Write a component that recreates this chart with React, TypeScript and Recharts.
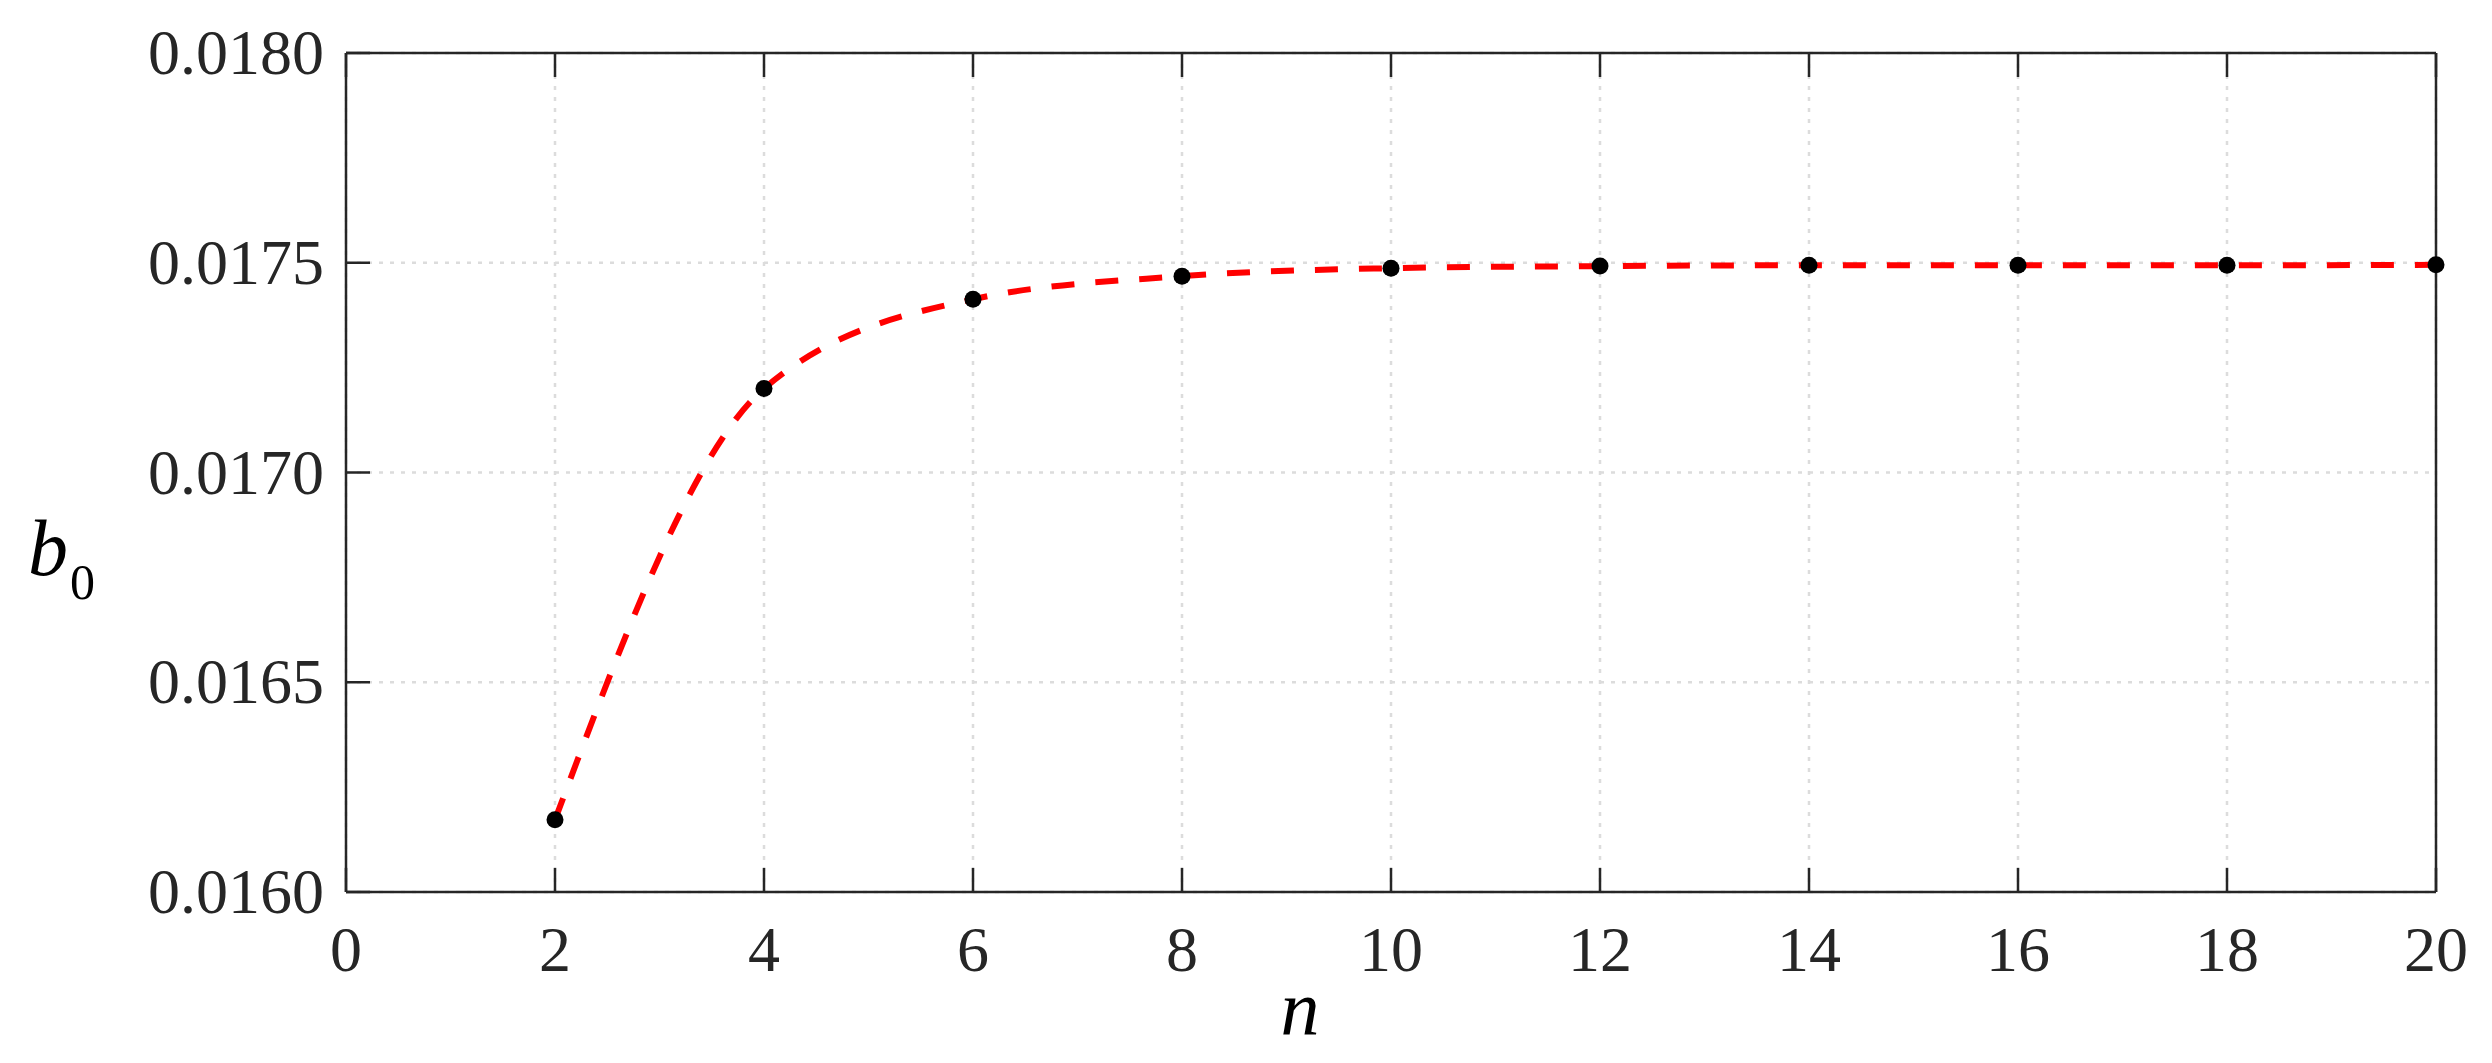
import React from 'react';
import {
  ComposedChart,
  Line,
  Scatter,
  XAxis,
  YAxis,
  CartesianGrid,
} from 'recharts';

const nValues = [2, 4, 6, 8, 10, 12, 14, 16, 18, 20];
const b0Values = [
  0.016172, 0.0172, 0.017413, 0.017468, 0.017487, 0.017492, 0.017494, 0.017494, 0.017494, 0.017495,
];
const xTicks = [0, 2, 4, 6, 8, 10, 12, 14, 16, 18, 20];
const yTicks = [0.016, 0.0165, 0.017, 0.0175, 0.018];

const data = nValues.map((n, i) => ({ n, b0: b0Values[i] }));

const INK = '#262626';
const FONT = '"Liberation Serif", "Times New Roman", serif';
const TICK_LEN = 24;

// ticks point inward (MATLAB style), so each tick draws its own mark
function BottomTick(props: any) {
  const { x, y, payload } = props;
  return (
    <g>
      <line x1={x} x2={x} y1={y} y2={y - TICK_LEN} stroke={INK} strokeWidth={2.5} />
      <text x={x} y={y + 79} textAnchor="middle" fill={INK} fontSize={64} fontFamily={FONT}>
        {payload.value}
      </text>
    </g>
  );
}

function LeftTick(props: any) {
  const { x, y, payload } = props;
  return (
    <g>
      <line x1={x} x2={x + TICK_LEN} y1={y} y2={y} stroke={INK} strokeWidth={2.5} />
      <text x={x - 22} y={y + 21} textAnchor="end" fill={INK} fontSize={64} fontFamily={FONT}>
        {Number(payload.value).toFixed(4)}
      </text>
    </g>
  );
}

function TopTick(props: any) {
  const { x, y } = props;
  return <line x1={x} x2={x} y1={y} y2={y + TICK_LEN} stroke={INK} strokeWidth={2.5} />;
}

function RightTick(props: any) {
  const { x, y } = props;
  return <line x1={x} x2={x - TICK_LEN} y1={y} y2={y} stroke={INK} strokeWidth={2.5} />;
}

function Dot(props: any) {
  const { cx, cy } = props;
  if (cx == null || cy == null) return null;
  return <circle cx={cx} cy={cy} r={8.5} fill="#000" />;
}

function B0Label(props: any) {
  const vb = props.viewBox || { x: 0, y: 0, width: 0, height: 0 };
  const x = vb.x + 28;
  const y = vb.y + vb.height / 2 + 102;
  return (
    <text x={x} y={y} fill="#000" fontFamily={FONT}>
      <tspan fontStyle="italic" fontSize={80}>b</tspan>
      <tspan fontSize={50} dx={2} dy={24}>0</tspan>
    </text>
  );
}

const axisLine = { stroke: INK, strokeWidth: 2.5 };

export default function App() {
  return (
    <div style={{ position: 'absolute', left: 0, top: 0, background: '#fff' }}>
      <ComposedChart
        width={2492}
        height={1063}
        data={data}
        margin={{ top: 52, right: 55, bottom: 0, left: 0 }}
      >
        <CartesianGrid stroke="#dcdcdc" strokeWidth={2.5} strokeDasharray="4 7" />
        <XAxis
          dataKey="n"
          type="number"
          domain={[0, 20]}
          ticks={xTicks}
          interval={0}
          height={171}
          tick={BottomTick}
          tickSize={0}
          tickMargin={0}
          tickLine={false}
          axisLine={axisLine}
          label={{
            value: 'n',
            position: 'insideBottom',
            offset: 28,
            dx: -91,
            fill: '#000',
            fontSize: 78,
            fontStyle: 'italic',
            fontFamily: FONT,
          }}
        />
        <XAxis
          xAxisId="top"
          dataKey="n"
          orientation="top"
          type="number"
          domain={[0, 20]}
          ticks={xTicks}
          interval={0}
          height={1}
          tick={TopTick}
          tickSize={0}
          tickMargin={0}
          tickLine={false}
          axisLine={axisLine}
        />
        <YAxis
          type="number"
          domain={[0.016, 0.018]}
          ticks={yTicks}
          interval={0}
          width={346}
          tick={LeftTick}
          tickSize={0}
          tickMargin={0}
          tickLine={false}
          axisLine={axisLine}
          label={{ content: (p: any) => <B0Label {...p} /> }}
        />
        <YAxis
          yAxisId="right"
          orientation="right"
          type="number"
          domain={[0.016, 0.018]}
          ticks={yTicks}
          interval={0}
          width={1}
          tick={RightTick}
          tickSize={0}
          tickMargin={0}
          tickLine={false}
          axisLine={axisLine}
        />
        <Line
          type="monotone"
          dataKey="b0"
          stroke="#ff0000"
          strokeWidth={6}
          strokeDasharray="23 21"
          dot={false}
          activeDot={false}
          isAnimationActive={false}
        />
        <Scatter dataKey="b0" shape={Dot} isAnimationActive={false} />
      </ComposedChart>
    </div>
  );
}
